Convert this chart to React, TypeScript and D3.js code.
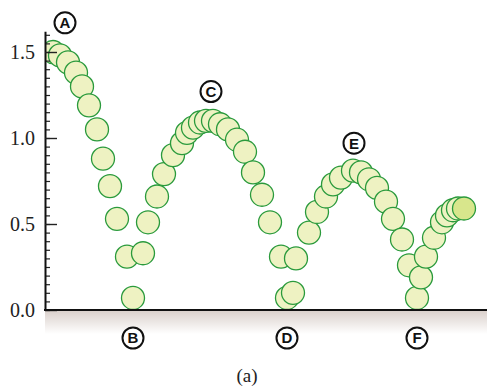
import { useRef, useEffect } from 'react';
import * as d3 from 'd3';

// time (arbitrary units) and height of the ball
const times = [
  0.08, 0.15, 0.23, 0.31, 0.37, 0.44, 0.52, 0.58, 0.65, 0.72, 0.82, 0.88,
  0.98, 1.03, 1.12, 1.19, 1.28, 1.37, 1.42, 1.48, 1.55, 1.61, 1.68, 1.75, 1.83, 1.92, 2.0, 2.08, 2.17, 2.25, 2.36, 2.42,
  2.48, 2.51, 2.64, 2.72, 2.81, 2.88, 2.96, 3.08, 3.16, 3.24, 3.32, 3.41, 3.48, 3.57, 3.64, 3.72,
  3.76, 3.81, 3.89, 3.97, 4.02, 4.08, 4.13, 4.19,
];
const heights = [
  1.5, 1.48, 1.44, 1.38, 1.3, 1.19, 1.05, 0.88, 0.72, 0.53, 0.31, 0.07,
  0.33, 0.51, 0.66, 0.79, 0.9, 0.97, 1.03, 1.06, 1.09, 1.1, 1.1, 1.08, 1.05, 0.99, 0.92, 0.8, 0.67, 0.51, 0.31, 0.07,
  0.1, 0.3, 0.45, 0.57, 0.66, 0.73, 0.77, 0.81, 0.8, 0.76, 0.71, 0.63, 0.53, 0.41, 0.26, 0.07,
  0.19, 0.31, 0.42, 0.51, 0.55, 0.58, 0.59, 0.59,
];

const majorTicks = [0, 0.5, 1.0, 1.5];
const upperLabels = ['A', 'C', 'E'];
const upperLabelTimes = [0.2, 1.66, 3.09];
const upperLabelHeights = [1.67, 1.27, 0.97];
const lowerLabels = ['B', 'D', 'F'];
const lowerLabelTimes = [0.88, 2.42, 3.72];

const W = 487;
const H = 387;
const left = 45;
const base = 310;

const Chart = () => {
  const svgRef = useRef<SVGSVGElement>(null);

  useEffect(() => {
    const svg = d3.select(svgRef.current);
    svg.selectAll('*').remove();

    const x = d3.scaleLinear().domain([0, 4.42]).range([left, W]);
    const y = d3.scaleLinear().domain([0, 1.62]).range([base, base - 1.62 * 172]);

    const defs = svg.append('defs');
    const grad = defs
      .append('linearGradient')
      .attr('id', 'floor')
      .attr('x1', 0)
      .attr('y1', 0)
      .attr('x2', 0)
      .attr('y2', 1);
    grad.append('stop').attr('offset', 0).attr('stop-color', '#d9cfca');
    grad.append('stop').attr('offset', 1).attr('stop-color', '#ffffff');
    defs
      .append('clipPath')
      .attr('id', 'plot')
      .append('rect')
      .attr('x', left)
      .attr('y', 0)
      .attr('width', W - left)
      .attr('height', base);

    svg
      .append('rect')
      .attr('x', left)
      .attr('y', base)
      .attr('width', W - left)
      .attr('height', 24)
      .attr('fill', 'url(#floor)');

    const pts = times.map((t, i) => ({ t, h: heights[i], last: i === times.length - 1 }));
    svg
      .append('g')
      .attr('clip-path', 'url(#plot)')
      .selectAll('circle')
      .data(pts)
      .join('circle')
      .attr('cx', (d) => x(d.t))
      .attr('cy', (d) => y(d.h))
      .attr('r', 11.5)
      .attr('fill', (d) => (d.last ? '#d8e68c' : '#eef2c2'))
      .attr('stroke', '#2a9a3c')
      .attr('stroke-width', 1.3);

    // minor ticks every 0.05
    const minor = d3.range(0, 33).map((i) => i * 0.05).filter((v) => v <= 1.6 + 1e-9);
    svg
      .append('g')
      .attr('transform', `translate(${left},0)`)
      .call(
        d3.axisLeft(y).tickValues(minor).tickSizeInner(-5).tickSizeOuter(0).tickFormat(() => '')
      )
      .call((g) => g.select('.domain').remove())
      .call((g) => g.selectAll('line').attr('stroke', '#222').attr('stroke-width', 1.2));

    const yAxis = svg
      .append('g')
      .attr('transform', `translate(${left},0)`)
      .call(
        d3
          .axisLeft(y)
          .tickValues(majorTicks)
          .tickSizeInner(-12)
          .tickSizeOuter(0)
          .tickPadding(10)
          .tickFormat(d3.format('.1f'))
      );
    yAxis.select('.domain').attr('stroke', '#111').attr('stroke-width', 2);
    yAxis.selectAll('line').attr('stroke', '#222').attr('stroke-width', 1.4);
    yAxis
      .selectAll('text')
      .attr('fill', '#222')
      .style('font-family', '"Liberation Serif", "DejaVu Serif", serif')
      .style('font-size', '20px');

    svg
      .append('line')
      .attr('x1', left - 1)
      .attr('x2', W)
      .attr('y1', base)
      .attr('y2', base)
      .attr('stroke', '#111')
      .attr('stroke-width', 2);

    const letter = (g: any, cx: number, cy: number, txt: string) => {
      g.append('circle')
        .attr('cx', cx)
        .attr('cy', cy)
        .attr('r', 10.5)
        .attr('fill', '#fff')
        .attr('stroke', '#111')
        .attr('stroke-width', 2);
      g.append('text')
        .attr('x', cx)
        .attr('y', cy)
        .attr('dy', '0.36em')
        .attr('text-anchor', 'middle')
        .attr('fill', '#111')
        .style('font-family', '"Liberation Sans", Arial, sans-serif')
        .style('font-weight', 'bold')
        .style('font-size', '15px')
        .text(txt);
    };

    const lg = svg.append('g');
    upperLabels.forEach((l, i) => letter(lg, x(upperLabelTimes[i]), y(upperLabelHeights[i]), l));
    lowerLabels.forEach((l, i) => letter(lg, x(lowerLabelTimes[i]), base + 28, l));

    svg
      .append('text')
      .attr('x', 247)
      .attr('y', 382)
      .attr('text-anchor', 'middle')
      .attr('fill', '#222')
      .style('font-family', '"Liberation Serif", "DejaVu Serif", serif')
      .style('font-size', '19px')
      .text('(a)');
  }, []);

  return (
    <svg
      ref={svgRef}
      width={W}
      height={H}
      style={{ position: 'absolute', left: 0, top: 0, background: '#fff' }}
    />
  );
};

export default function App() {
  return <Chart />;
}
